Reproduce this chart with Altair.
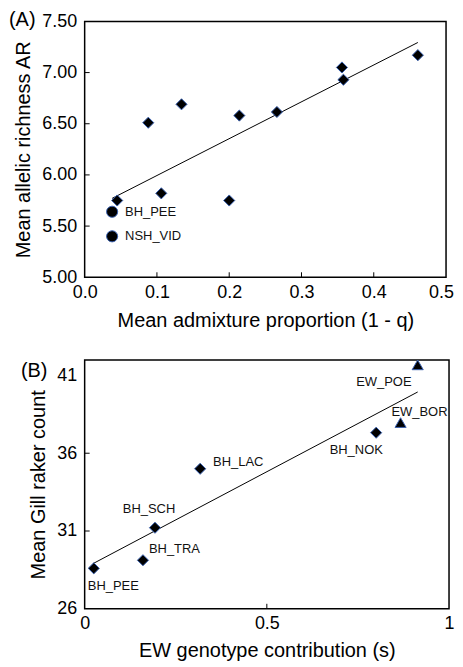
import altair as alt
import pandas as pd

# ---- Panel A data ----
a_names = ["p1", "p2", "p3", "p4", "p5", "p6", "p7", "p8", "p9", "p10", "BH_PEE", "NSH_VID"]
a_x = [0.045, 0.088, 0.134, 0.106, 0.200, 0.214, 0.266, 0.356, 0.358, 0.461, 0.038, 0.038]
a_y = [5.75, 6.51, 6.69, 5.82, 5.75, 6.58, 6.615, 7.05, 6.93, 7.17, 5.64, 5.40]
a_kind = ["diamond"] * 10 + ["circle", "circle"]
a_xticks = [0.0, 0.1, 0.2, 0.3, 0.4, 0.5]
a_yticks = [5.0, 5.5, 6.0, 6.5, 7.0, 7.5]

# ---- Panel B data ----
b_names = ["BH_PEE", "BH_TRA", "BH_SCH", "BH_LAC", "BH_NOK", "EW_BOR", "EW_POE"]
b_x = [0.025, 0.160, 0.193, 0.317, 0.800, 0.867, 0.914]
b_y = [28.6, 29.12, 31.21, 35.0, 37.32, 37.97, 41.68]
b_kind = ["diamond"] * 5 + ["triangle-up", "triangle-up"]
b_xticks = [0.0, 0.5, 1.0]
b_yticks = [26, 31, 36, 41]

panel_tags = ["(A)", "(B)"]

FONT = "Liberation Sans"
STROKE_BLUE = "#3a62b0"

dfa = pd.DataFrame({"name": a_names, "x": a_x, "y": a_y, "kind": a_kind})
dfb = pd.DataFrame({"name": b_names, "x": b_x, "y": b_y, "kind": b_kind})

shape_scale = alt.Scale(domain=["diamond", "circle", "triangle-up"],
                        range=["diamond", "circle", "triangle-up"])


def panel(df, xticks, yticks, xdom, ydom, xfmt, yfmt, xtitle, ytitle, W, H, tag, tagpos,
          labels, xtitlepad, last_shift):
    axx = alt.Axis(values=xticks, format=xfmt, title=xtitle, ticks=False, domain=False,
                   grid=False, labelFontSize=18, titleFontSize=20, labelPadding=6,
                   titlePadding=xtitlepad, titleFontWeight="normal", labelColor="black",
                   titleColor="black", labelFlush=False,
                   labelOffset=alt.condition(f"datum.value == {xticks[-1]}",
                                             alt.value(last_shift), alt.value(0)))
    axy = alt.Axis(values=yticks, format=yfmt, title=ytitle, ticks=False, domain=False,
                   grid=False, labelFontSize=18, titleFontSize=20, labelPadding=8,
                   titlePadding=8, titleFontWeight="normal", labelColor="black",
                   titleColor="black", labelFlush=False)
    X = alt.X("x:Q", scale=alt.Scale(domain=xdom, nice=False, zero=False), axis=axx)
    Y = alt.Y("y:Q", scale=alt.Scale(domain=ydom, nice=False, zero=False), axis=axy)

    base = alt.Chart(df)
    line = base.transform_regression("x", "y").mark_line(color="black", strokeWidth=1).encode(x=X, y=Y)
    pts = base.mark_point(filled=True, fill="black", stroke=STROKE_BLUE, strokeWidth=1,
                          size=125, opacity=1).encode(
        x=X, y=Y, shape=alt.Shape("kind:N", scale=shape_scale, legend=None))

    xt = pd.DataFrame({"x": xticks[1:-1]})
    yt = pd.DataFrame({"y": yticks[1:-1]})
    xtick = alt.Chart(xt).mark_rule(color="black", strokeWidth=1).encode(
        x=X, y=alt.value(H), y2=alt.value(H - 5))
    ytick = alt.Chart(yt).mark_rule(color="black", strokeWidth=1).encode(
        y=Y, x=alt.value(0), x2=alt.value(5))

    texts = []
    for nm, dx, dy, al in labels:
        texts.append(base.transform_filter(alt.datum.name == nm).mark_text(
            fontSize=13, font=FONT, color="#111", align=al, baseline="middle",
            dx=dx, dy=dy).encode(x=X, y=Y, text="name:N"))

    tagdf = pd.DataFrame({"tag": [tag]})
    tagmark = alt.Chart(tagdf).mark_text(fontSize=20, font=FONT, color="black",
                                         align="left", baseline="middle").encode(
        x=alt.value(tagpos[0]), y=alt.value(tagpos[1]), text="tag:N")

    return alt.layer(line, xtick, ytick, pts, *texts, tagmark).properties(width=W, height=H)


a_lab = [("BH_PEE", 13, 0, "left"), ("NSH_VID", 13, 0, "left")]
b_lab = [("BH_PEE", -6, 18, "left"), ("BH_TRA", 6, -11, "left"), ("BH_SCH", -6, -19, "center"),
         ("BH_LAC", 13, -7, "left"), ("BH_NOK", -20, 17, "center"), ("EW_BOR", 19, -11, "center"),
         ("EW_POE", -34, 17, "center")]

pa = panel(dfa, a_xticks, a_yticks, [0, 0.5], [5, 7.5], ".1f", ".2f",
           "Mean admixture proportion (1 - q)", "Mean allelic richness AR", 363, 257,
           panel_tags[0], (-76, -1), a_lab, 9, -5)
pb = panel(dfb, b_xticks, b_yticks, [0, 1], [26, 42], "~g", "d",
           "EW genotype contribution (s)", "Mean Gill raker count", 366, 250,
           panel_tags[1], (-64, 11), b_lab, 8, 0)

chart = alt.vconcat(pa, pb, spacing=26).configure(
    font=FONT, padding={"left": 0, "top": 0, "right": 0, "bottom": 0}
).configure_view(stroke="black", strokeWidth=1.5).configure_axis(labelFont=FONT, titleFont=FONT)

chart.save("out.html", embed_options={"renderer": "svg", "actions": False})
